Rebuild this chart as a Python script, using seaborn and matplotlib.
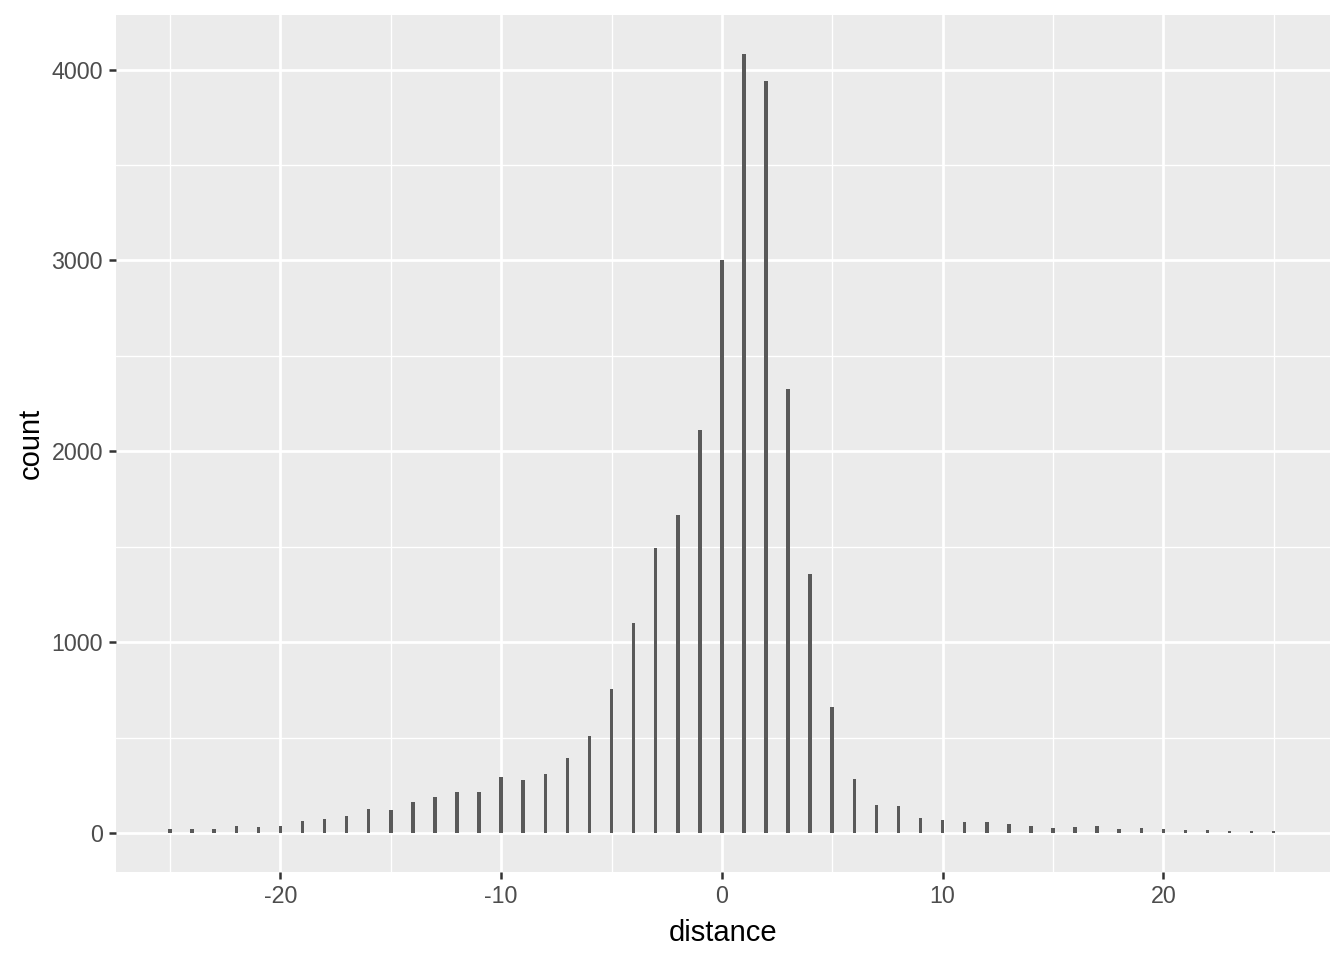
import numpy as np
import pandas as pd
import matplotlib
matplotlib.use("Agg")
import matplotlib.pyplot as plt
from matplotlib.ticker import MultipleLocator
import seaborn as sns

# ---------------- data ----------------
distance = list(range(-25, 26))
count = [19, 19, 19, 35, 30, 35, 61, 72, 87, 124,
         119, 161, 187, 215, 215, 293, 277, 309, 393, 508,
         754, 1102, 1495, 1668, 2113, 3001, 4082, 3939, 2327, 1359,
         658, 283, 145, 140, 77, 66, 56, 56, 45, 35,
         24, 30, 35, 19, 24, 19, 14, 14, 9, 9, 9]
x_ticks = [-20, -10, 0, 10, 20]
y_ticks = [0, 1000, 2000, 3000, 4000]

df = pd.DataFrame({"distance": distance, "count": count})

# ---------------- ggplot-ish theme ----------------
sns.set_theme(style="darkgrid", rc={
    "axes.facecolor": "#EBEBEB",
    "figure.facecolor": "white",
    "grid.color": "white",
    "axes.edgecolor": "none",
    "xtick.color": "#333333",
    "ytick.color": "#333333",
    "xtick.labelcolor": "#4D4D4D",
    "ytick.labelcolor": "#4D4D4D",
    "xtick.bottom": True,
    "ytick.left": True,
    "xtick.major.size": 3.5,
    "ytick.major.size": 3.5,
    "xtick.major.width": 1.2,
    "ytick.major.width": 1.2,
    "xtick.major.pad": 2.8,
    "ytick.major.pad": 2.8,
})
plt.rcParams["font.family"] = ["Liberation Sans", "DejaVu Sans"]

fig = plt.figure(figsize=(8.96, 6.4), dpi=150)
ax = fig.add_axes([116 / 1344, 1 - 872 / 960, (1330 - 116) / 1344, (872 - 15) / 960])

sns.barplot(data=df, x="distance", y="count", native_scale=True, width=0.16,
            color="#595959", saturation=1, edgecolor="none", linewidth=0, ax=ax)

ax.set_xlim(-27.45, 27.55)
ax.set_ylim(-204, 4286)
ax.set_xticks(x_ticks)
ax.set_xticklabels([str(v) for v in x_ticks], fontsize=11.2)
ax.set_yticks(y_ticks)
ax.set_yticklabels([str(v) for v in y_ticks], fontsize=11.2)
ax.xaxis.set_minor_locator(MultipleLocator(5))
ax.yaxis.set_minor_locator(MultipleLocator(500))
ax.tick_params(which="minor", length=0)
ax.grid(which="major", color="white", linewidth=1.3)
ax.grid(which="minor", color="white", linewidth=0.65)
ax.set_axisbelow(True)
for s in ax.spines.values():
    s.set_visible(False)

ax.set_xlabel("distance", fontsize=14, color="black", labelpad=5)
ax.set_ylabel("count", fontsize=14, color="black", labelpad=3)

fig.savefig("out.png", dpi=150)
